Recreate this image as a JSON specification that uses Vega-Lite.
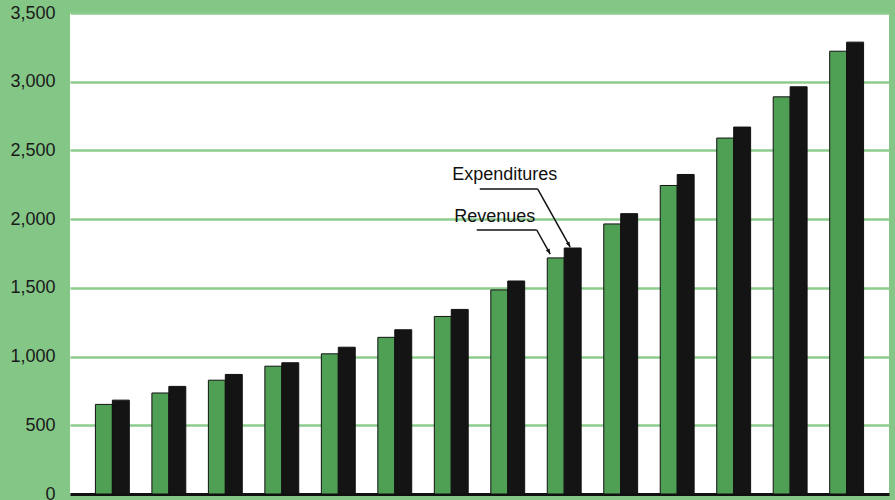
{
  "$schema": "https://vega.github.io/schema/vega-lite/v6.json",
  "width": 819,
  "height": 481,
  "autosize": {"type": "none"},
  "padding": {"left": 70, "top": 13, "right": 6, "bottom": 6},
  "background": "#84c686",
  "config": {
    "view": {"fill": "white", "stroke": null},
    "font": "Liberation Sans"
  },
  "datasets": {
    "bars": [
      {"period": 1, "series": "Revenues", "value": 652},
      {"period": 1, "series": "Expenditures", "value": 683},
      {"period": 2, "series": "Revenues", "value": 735},
      {"period": 2, "series": "Expenditures", "value": 783},
      {"period": 3, "series": "Revenues", "value": 828},
      {"period": 3, "series": "Expenditures", "value": 870},
      {"period": 4, "series": "Revenues", "value": 930},
      {"period": 4, "series": "Expenditures", "value": 955},
      {"period": 5, "series": "Revenues", "value": 1020},
      {"period": 5, "series": "Expenditures", "value": 1068},
      {"period": 6, "series": "Revenues", "value": 1140},
      {"period": 6, "series": "Expenditures", "value": 1195},
      {"period": 7, "series": "Revenues", "value": 1292},
      {"period": 7, "series": "Expenditures", "value": 1343},
      {"period": 8, "series": "Revenues", "value": 1485},
      {"period": 8, "series": "Expenditures", "value": 1550},
      {"period": 9, "series": "Revenues", "value": 1718},
      {"period": 9, "series": "Expenditures", "value": 1790},
      {"period": 10, "series": "Revenues", "value": 1965},
      {"period": 10, "series": "Expenditures", "value": 2040},
      {"period": 11, "series": "Revenues", "value": 2245},
      {"period": 11, "series": "Expenditures", "value": 2325},
      {"period": 12, "series": "Revenues", "value": 2590},
      {"period": 12, "series": "Expenditures", "value": 2670},
      {"period": 13, "series": "Revenues", "value": 2890},
      {"period": 13, "series": "Expenditures", "value": 2963},
      {"period": 14, "series": "Revenues", "value": 3222},
      {"period": 14, "series": "Expenditures", "value": 3288}
    ]
  },
  "layer": [
    {
      "data": {"name": "bars"},
      "mark": {"type": "bar", "stroke": "#111111", "strokeWidth": 1},
      "encoding": {
        "x": {
          "field": "period", "type": "ordinal",
          "scale": {"paddingInner": 0.4, "paddingOuter": 0.45},
          "axis": {"labels": false, "ticks": false, "title": null, "domain": true, "domainColor": "#111111", "domainWidth": 3, "grid": false}
        },
        "xOffset": {
          "field": "series", "type": "nominal",
          "sort": ["Revenues", "Expenditures"],
          "scale": {"paddingInner": 0, "paddingOuter": 0}
        },
        "y": {
          "field": "value", "type": "quantitative",
          "scale": {"domain": [0, 3500], "nice": false},
          "axis": {
            "values": [0, 500, 1000, 1500, 2000, 2500, 3000, 3500],
            "format": ",.0f",
            "title": null,
            "ticks": false,
            "domain": false,
            "labelFontSize": 18,
            "labelColor": "#1a1a1a",
            "labelPadding": 15,
            "gridColor": "#8ccc8e",
            "gridWidth": 2.5,
            "gridOpacity": 1
          }
        },
        "color": {
          "field": "series", "type": "nominal",
          "scale": {"domain": ["Revenues", "Expenditures"], "range": ["#4f9f55", "#141414"]},
          "legend": null
        }
      }
    },
    {
      "data": {"values": [{"period": 8, "label": "Expenditures", "value": 2321}]},
      "mark": {"type": "text", "fontSize": 18, "color": "#111111", "dx": -3, "align": "center", "baseline": "middle"},
      "encoding": {
        "x": {"field": "period", "type": "ordinal"},
        "y": {"field": "value", "type": "quantitative"},
        "text": {"field": "label"}
      }
    },
    {
      "data": {"values": [{"period": 8, "label": "Revenues", "value": 2015}]},
      "mark": {"type": "text", "fontSize": 18, "color": "#111111", "dx": -13, "align": "center", "baseline": "middle"},
      "encoding": {
        "x": {"field": "period", "type": "ordinal"},
        "y": {"field": "value", "type": "quantitative"},
        "text": {"field": "label"}
      }
    },
    {
      "data": {"values": [{"from": 8, "to": 8, "y1": 2219, "y2": 2219}]},
      "mark": {"type": "rule", "color": "#111111", "strokeWidth": 1.5, "xOffset": -28, "x2Offset": 30},
      "encoding": {
        "x": {"field": "from", "type": "ordinal"},
        "x2": {"field": "to"},
        "y": {"field": "y1", "type": "quantitative"},
        "y2": {"field": "y2"}
      }
    },
    {
      "data": {"values": [{"from": 8, "to": 9, "y1": 2219, "y2": 1797}]},
      "mark": {"type": "rule", "color": "#111111", "strokeWidth": 1.5, "xOffset": 30, "x2Offset": 6},
      "encoding": {
        "x": {"field": "from", "type": "ordinal"},
        "x2": {"field": "to"},
        "y": {"field": "y1", "type": "quantitative"},
        "y2": {"field": "y2"}
      }
    },
    {
      "data": {"values": [{"from": 8, "to": 8, "y1": 1921, "y2": 1921}]},
      "mark": {"type": "rule", "color": "#111111", "strokeWidth": 1.5, "xOffset": -31, "x2Offset": 29},
      "encoding": {
        "x": {"field": "from", "type": "ordinal"},
        "x2": {"field": "to"},
        "y": {"field": "y1", "type": "quantitative"},
        "y2": {"field": "y2"}
      }
    },
    {
      "data": {"values": [{"from": 8, "to": 9, "y1": 1921, "y2": 1746}]},
      "mark": {"type": "rule", "color": "#111111", "strokeWidth": 1.5, "xOffset": 29, "x2Offset": -14},
      "encoding": {
        "x": {"field": "from", "type": "ordinal"},
        "x2": {"field": "to"},
        "y": {"field": "y1", "type": "quantitative"},
        "y2": {"field": "y2"}
      }
    },
    {
      "data": {"values": [{"period": 9, "value": 1797}]},
      "mark": {"type": "point", "shape": "M0,0L-0.4,-1L0.4,-1Z", "filled": true, "color": "#111111", "opacity": 1, "size": 110, "angle": 331, "xOffset": 6},
      "encoding": {
        "x": {"field": "period", "type": "ordinal"},
        "y": {"field": "value", "type": "quantitative"}
      }
    },
    {
      "data": {"values": [{"period": 9, "value": 1746}]},
      "mark": {"type": "point", "shape": "M0,0L-0.4,-1L0.4,-1Z", "filled": true, "color": "#111111", "opacity": 1, "size": 110, "angle": 332, "xOffset": -14},
      "encoding": {
        "x": {"field": "period", "type": "ordinal"},
        "y": {"field": "value", "type": "quantitative"}
      }
    }
  ]
}
